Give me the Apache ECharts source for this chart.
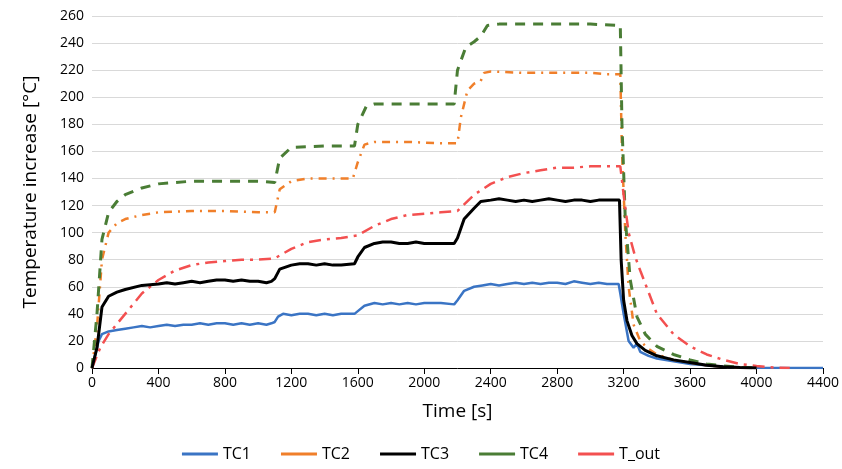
<!DOCTYPE html>
<html><head><meta charset="utf-8">
<script src="https://cdn.jsdelivr.net/npm/echarts@6/dist/echarts.min.js"></script>
<style>html,body{margin:0;padding:0;background:#fff}#c{width:842px;height:469px}</style>
</head><body><div id="c"></div>
<script>
const xTicks=[0,400,800,1200,1600,2000,2400,2800,3200,3600,4000,4400];
const TC1=[[0,0],[20,10],[40,20],[60,25],[100,27],[150,28],[200,29],[250,30],[300,31],[350,30],[400,31],[450,32],[500,31],[550,32],[600,32],[650,33],[700,32],[750,33],[800,33],[850,32],[900,33],[950,32],[1000,33],[1050,32],[1080,33],[1100,34],[1120,38],[1150,40],[1200,39],[1250,40],[1300,40],[1350,39],[1400,40],[1450,39],[1500,40],[1580,40],[1600,42],[1640,46],[1700,48],[1750,47],[1800,48],[1850,47],[1900,48],[1950,47],[2000,48],[2100,48],[2180,47],[2200,50],[2240,57],[2300,60],[2350,61],[2400,62],[2450,61],[2500,62],[2550,63],[2600,62],[2650,63],[2700,62],[2750,63],[2800,63],[2850,62],[2900,64],[2950,63],[3000,62],[3050,63],[3100,62],[3170,62],[3180,55],[3200,40],[3230,20],[3260,15],[3280,18],[3300,12],[3350,9],[3400,7],[3500,5],[3600,3],[3700,2],[3800,1],[3900,0.5],[4000,0.2],[4400,0]];
const TC2=[[0,0],[30,30],[60,80],[100,100],[150,107],[200,110],[300,113],[400,115],[600,116],[800,116],[1000,115],[1100,115],[1130,132],[1200,138],[1300,140],[1400,140],[1500,140],[1570,140],[1600,152],[1640,165],[1700,167],[1900,167],[2100,166],[2200,166],[2220,185],[2260,205],[2300,210],[2340,212],[2360,218],[2400,219],[2600,218],[2800,218],[3000,218],[3100,217],[3180,217],[3190,160],[3210,100],[3230,60],[3260,32],[3300,20],[3350,14],[3400,10],[3500,6],[3600,4],[3700,2],[3800,1],[3900,0.3],[4000,0]];
const TC3=[[0,0],[30,15],[60,45],[100,53],[150,56],[200,58],[300,61],[400,62],[450,63],[500,62],[550,63],[600,64],[650,63],[700,64],[750,65],[800,65],[850,64],[900,65],[950,64],[1000,64],[1050,63],[1080,64],[1100,66],[1130,73],[1200,76],[1250,77],[1300,77],[1350,76],[1400,77],[1450,76],[1500,76],[1580,77],[1600,82],[1640,89],[1700,92],[1750,93],[1800,93],[1850,92],[1900,92],[1950,93],[2000,92],[2100,92],[2180,92],[2200,96],[2240,110],[2300,118],[2340,123],[2400,124],[2450,125],[2500,124],[2550,123],[2600,124],[2650,123],[2700,124],[2750,125],[2800,124],[2850,123],[2900,124],[2950,124],[3000,123],[3050,124],[3100,124],[3175,124],[3185,80],[3200,50],[3220,35],[3250,24],[3280,18],[3330,13],[3400,9],[3500,6],[3600,4],[3700,2],[3800,1],[3900,0.3],[4000,0]];
const TC4=[[0,0],[30,40],[60,95],[100,115],[150,123],[200,128],[300,133],[400,136],[600,138],[800,138],[1000,138],[1100,137],[1130,155],[1200,163],[1400,164],[1580,164],[1600,180],[1650,193],[1700,195],[2000,195],[2180,195],[2200,220],[2250,237],[2300,241],[2340,245],[2380,253],[2450,254],[3000,254],[3180,253],[3190,180],[3210,110],[3240,65],[3280,38],[3330,25],[3400,16],[3500,10],[3600,6],[3700,3],[3800,1.5],[3900,0.5],[4000,0]];
const TOUT=[[0,0],[50,15],[100,25],[200,40],[300,55],[400,65],[500,72],[600,76],[700,78],[800,79],[900,80],[1000,80],[1100,81],[1200,88],[1300,93],[1400,95],[1500,96],[1600,98],[1700,105],[1800,110],[1900,113],[2000,114],[2100,115],[2200,116],[2300,128],[2400,136],[2500,141],[2600,144],[2700,146],[2800,148],[2900,148],[3000,149],[3100,149],[3180,149],[3200,128],[3230,100],[3270,82],[3300,72],[3400,40],[3500,25],[3600,16],[3700,10],[3800,6],[3900,3],[4000,1.5],[4100,0.3],[4200,0]];
const F='"Open Sans", "Liberation Sans", sans-serif';
const ch=echarts.init(document.getElementById('c'));
function s(name,data,color,type,w){return {name,type:'line',data,showSymbol:false,smooth:false,lineStyle:{color,width:w,type},itemStyle:{color},z:name==='TC3'?5:3};}
ch.setOption({
 animation:false,
 grid:{left:92,right:18,top:16,bottom:101},
 legend:{bottom:2,left:'center',itemWidth:36,itemHeight:3,itemGap:30,textStyle:{fontFamily:F,fontSize:16,color:'#000'},icon:'rect',
   data:['TC1','TC2','TC3','TC4','T_out']},
 xAxis:{type:'value',min:0,max:4400,interval:400,name:'Time [s]',nameLocation:'middle',nameGap:34,
   nameTextStyle:{fontFamily:F,fontSize:19,color:'#000'},
   axisLine:{lineStyle:{color:'#000'}},axisTick:{show:true,length:6,inside:false,lineStyle:{color:'#000'}},
   axisLabel:{fontFamily:F,fontSize:14,color:'#000',formatter:v=>String(v)},splitLine:{show:false}},
 yAxis:{type:'value',min:0,max:260,interval:20,name:'Temperature increase [°C]',nameLocation:'middle',nameGap:52,
   nameTextStyle:{fontFamily:F,fontSize:19,color:'#000'},
   axisLine:{show:false},axisTick:{show:false},
   axisLabel:{fontFamily:F,fontSize:14,color:'#000'},splitLine:{lineStyle:{color:'#d9d9d9'}}},
 series:[
  s('TC1',TC1,'#3a74c4','solid',2.5),
  s('TC2',TC2,'#f07f2a',[8,6,2,6],2.5),
  s('TC3',TC3,'#000000','solid',3),
  s('TC4',TC4,'#4a7d35',[10,8],3),
  s('T_out',TOUT,'#f35050',[12,6,3,6],2.5)
 ]
});
</script></body></html>
